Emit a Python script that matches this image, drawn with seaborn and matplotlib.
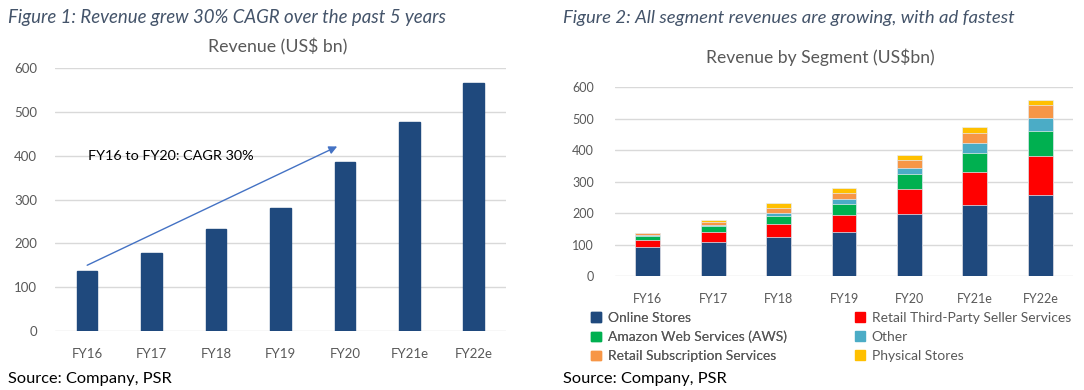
import matplotlib
matplotlib.use("Agg")
import matplotlib.pyplot as plt
import matplotlib.patches as mpatches
import seaborn as sns
import numpy as np
import pandas as pd

# ---------------- data ----------------
years = ["FY16", "FY17", "FY18", "FY19", "FY20", "FY21e", "FY22e"]
revenue = [136, 178, 233, 280, 386, 477, 565]

online_stores = [91.4, 108.4, 123.0, 141.2, 197.3, 225.0, 258.0]
third_party = [23.0, 31.9, 42.7, 53.8, 80.5, 107.0, 125.0]
aws = [12.2, 17.5, 25.7, 35.0, 45.4, 60.5, 78.5]
other = [3.0, 4.7, 10.1, 14.1, 21.5, 31.8, 42.4]
subscription = [6.4, 9.7, 14.2, 19.2, 25.2, 31.8, 38.2]
physical = [0.0, 5.8, 17.2, 17.2, 16.2, 18.0, 18.0]

segment_names = ["Online Stores", "Retail Third-Party Seller Services",
                 "Amazon Web Services (AWS)", "Other",
                 "Retail Subscription Services", "Physical Stores"]
segment_colors = ["#1F497D", "#FF0000", "#00B050", "#4BACC6", "#F79646", "#FFC000"]

# ---------------- style ----------------
sns.set_theme(style="white")
plt.rcParams['font.family'] = ['Lato', 'DejaVu Sans']

TXT = "#595959"
GRID = "#D9D9D9"
HEAD = "#44546A"

fig = plt.figure(figsize=(10.84, 3.90), dpi=100)

# ---------------- left chart ----------------
ax1 = fig.add_axes([0.0507, 0.1513, 0.4161, 0.6743])
sns.barplot(x=years, y=revenue, color="#1F497D", width=0.32, ax=ax1,
            saturation=1, edgecolor="#1F497D")
ax1.set_ylim(0, 600)
ax1.set_xlim(-0.5, 6.5)
ax1.set_yticks(range(0, 601, 100))
ax1.yaxis.grid(True, color=GRID, lw=1)
ax1.set_axisbelow(True)
for s in ax1.spines.values():
    s.set_visible(False)
ax1.tick_params(axis='y', length=0, pad=13, labelsize=9.5, labelcolor=TXT)
ax1.tick_params(axis='x', length=0, pad=12, labelsize=9.5, labelcolor=TXT)
ax1.set_xlabel("")
ax1.set_ylabel("")
ax1.annotate("", xy=(3.88, 421), xytext=(0.0, 150),
             arrowprops=dict(arrowstyle="-|>", color="#4472C4", lw=1,
                             mutation_scale=12, shrinkA=0, shrinkB=0))
ax1.text(0.02, 400, "FY16 to FY20: CAGR 30%", fontsize=10.4, color="#000000",
         va="center", ha="left")

# ---------------- right chart ----------------
ax2 = fig.add_axes([0.5673, 0.2923, 0.4226, 0.4839])
segments = [online_stores, third_party, aws, other, subscription, physical]
cum = np.cumsum(np.array(segments), axis=0)
for i in range(len(segments) - 1, -1, -1):
    sns.barplot(x=years, y=cum[i], color=segment_colors[i], width=0.38,
                ax=ax2, saturation=1, edgecolor="#E8ECF2", linewidth=0.5)
ax2.set_ylim(0, 600)
ax2.set_xlim(-0.5, 6.5)
ax2.set_yticks(range(0, 601, 100))
ax2.yaxis.grid(True, color=GRID, lw=1)
ax2.set_axisbelow(True)
for s in ax2.spines.values():
    s.set_visible(False)
ax2.tick_params(axis='y', length=0, pad=15, labelsize=9, labelcolor=TXT)
ax2.tick_params(axis='x', length=0, pad=12, labelsize=9, labelcolor=TXT)
ax2.set_xlabel("")
ax2.set_ylabel("")

handles = [mpatches.Patch(color=c, label=n) for n, c in zip(segment_names, segment_colors)]
leg_kw = dict(frameon=False, handlelength=0.7, handleheight=0.7,
              handletextpad=0.5, labelspacing=0.5, labelcolor=TXT,
              loc="upper left", borderaxespad=0, borderpad=0,
              prop=dict(family=['Lato', 'DejaVu Sans'], size=10, weight='normal'))
legA = fig.legend(handles=[handles[0], handles[2], handles[4]],
                  bbox_to_anchor=(591 / 1084, 1 - 312 / 390), **leg_kw)
fig.add_artist(legA)
legB = fig.legend(handles=[handles[1], handles[3], handles[5]],
                  bbox_to_anchor=(855 / 1084, 1 - 312 / 390), **leg_kw)

# ---------------- text ----------------
fig.text(8 / 1084, 1 - 18 / 390, "Figure 1: Revenue grew 30% CAGR over the past 5 years",
         fontsize=13.4, style="italic", color=HEAD, va="center", ha="left")
fig.text(563 / 1084, 1 - 18 / 390, "Figure 2: All segment revenues are growing, with ad fastest",
         fontsize=13.3, style="italic", color=HEAD, va="center", ha="left")
fig.text(278 / 1084, 1 - 47 / 390, "Revenue (US$ bn)", fontsize=12.8, color=TXT,
         va="center", ha="center")
fig.text(820 / 1084, 1 - 57 / 390, "Revenue by Segment (US$bn)", fontsize=12.6, color=TXT,
         va="center", ha="center")
fig.text(8 / 1084, 1 - 379 / 390, "Source: Company, PSR", fontsize=11.8, color="#000000",
         va="center", ha="left")
fig.text(563 / 1084, 1 - 379 / 390, "Source: Company, PSR", fontsize=11.8, color="#000000",
         va="center", ha="left")

fig.savefig("out.png", dpi=100)
